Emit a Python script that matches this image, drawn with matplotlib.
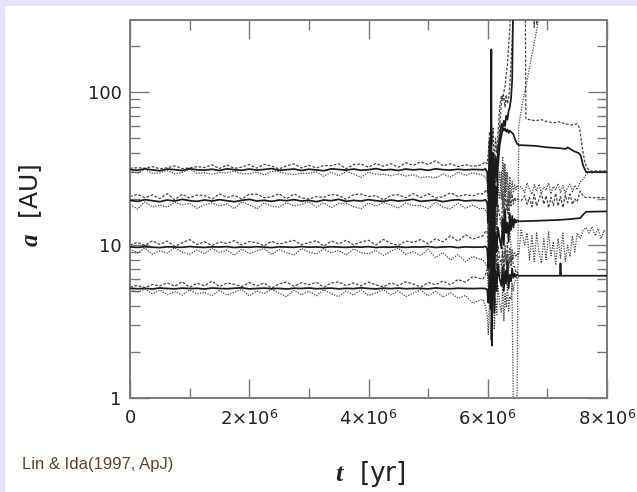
import numpy as np
import matplotlib
matplotlib.use("Agg")
import matplotlib.pyplot as plt
from matplotlib.patches import Rectangle
from matplotlib.ticker import FixedLocator, FixedFormatter, LogLocator, NullFormatter

plt.rcParams['font.family'] = ['DejaVu Sans']
plt.rcParams['mathtext.fontset'] = 'custom'
plt.rcParams['mathtext.it'] = 'Liberation Serif:italic:bold'
plt.rcParams['mathtext.rm'] = 'DejaVu Sans'

# ---- orbital evolution of four planets (time in Myr, distances in AU) ----
# quiet phase, sampled every 0.125 Myr
t_quiet = np.arange(48) * 0.125

a1 = [5.22, 5.18, 5.21, 5.16, 5.24, 5.20, 5.17, 5.23, 5.19, 5.21, 5.16, 5.24,
      5.20, 5.18, 5.22, 5.25, 5.17, 5.20, 5.23, 5.18, 5.21, 5.16, 5.22, 5.20,
      5.24, 5.18, 5.20, 5.23, 5.17, 5.21, 5.19, 5.25, 5.20, 5.17, 5.22, 5.19,
      5.23, 5.18, 5.20, 5.21, 5.17, 5.24, 5.20, 5.18, 5.22, 5.20, 5.19, 5.21]
a2 = [9.72, 9.65, 9.75, 9.68, 9.62, 9.74, 9.70, 9.66, 9.78, 9.69, 9.64, 9.73,
      9.70, 9.76, 9.63, 9.71, 9.67, 9.75, 9.69, 9.62, 9.74, 9.70, 9.66, 9.77,
      9.68, 9.72, 9.64, 9.75, 9.70, 9.66, 9.73, 9.69, 9.76, 9.63, 9.71, 9.68,
      9.74, 9.65, 9.72, 9.70, 9.78, 9.64, 9.71, 9.75, 9.62, 9.73, 9.68, 9.70]
a3 = [19.6, 19.3, 19.8, 19.5, 19.2, 19.7, 19.4, 19.9, 19.5, 19.3, 19.7, 19.4,
      19.8, 19.5, 19.2, 19.6, 19.9, 19.4, 19.6, 19.3, 19.7, 19.5, 19.8, 19.4,
      19.6, 19.2, 19.7, 19.5, 19.9, 19.3, 19.6, 19.4, 19.8, 19.5, 19.3, 19.7,
      19.4, 19.6, 19.9, 19.3, 19.5, 19.7, 19.2, 19.6, 19.8, 19.4, 19.6, 19.5]
a4 = [31.2, 30.8, 31.5, 31.0, 30.6, 31.4, 31.1, 30.7, 31.6, 31.0, 30.9, 31.3,
      30.7, 31.5, 31.1, 30.8, 31.4, 30.9, 31.2, 31.6, 30.8, 31.1, 31.4, 30.7,
      31.3, 31.0, 30.6, 31.5, 31.2, 30.9, 31.4, 30.8, 31.1, 31.6, 30.9, 31.2,
      30.7, 31.4, 31.0, 31.3, 30.8, 31.5, 31.1, 30.9, 31.3, 31.0, 31.2, 31.1]

# eccentricities in the quiet phase
e1 = [0.02, 0.05, 0.01, 0.07, 0.03, 0.09, 0.04, 0.10, 0.02, 0.08, 0.05, 0.11,
      0.03, 0.09, 0.06, 0.02, 0.10, 0.04, 0.08, 0.01, 0.07, 0.11, 0.03, 0.09,
      0.05, 0.10, 0.02, 0.08, 0.11, 0.04, 0.09, 0.03, 0.10, 0.06, 0.02, 0.09,
      0.04, 0.11, 0.07, 0.02, 0.10, 0.05, 0.12, 0.06, 0.14, 0.10, 0.20, 0.16]
e2 = [0.03, 0.08, 0.02, 0.10, 0.05, 0.09, 0.01, 0.07, 0.11, 0.04, 0.09, 0.02,
      0.08, 0.05, 0.11, 0.03, 0.09, 0.06, 0.02, 0.10, 0.04, 0.08, 0.11, 0.03,
      0.07, 0.10, 0.02, 0.09, 0.05, 0.11, 0.03, 0.08, 0.10, 0.04, 0.12, 0.06,
      0.02, 0.10, 0.07, 0.12, 0.04, 0.14, 0.08, 0.18, 0.10, 0.20, 0.13, 0.17]
e3 = [0.06, 0.11, 0.03, 0.09, 0.05, 0.10, 0.02, 0.08, 0.04, 0.10, 0.07, 0.03,
      0.09, 0.05, 0.10, 0.02, 0.08, 0.11, 0.04, 0.07, 0.10, 0.03, 0.09, 0.05,
      0.02, 0.08, 0.04, 0.10, 0.06, 0.03, 0.09, 0.11, 0.05, 0.08, 0.02, 0.07,
      0.10, 0.04, 0.09, 0.06, 0.11, 0.03, 0.08, 0.12, 0.05, 0.10, 0.07, 0.12]
e4 = [0.02, 0.04, 0.01, 0.05, 0.03, 0.02, 0.06, 0.03, 0.01, 0.05, 0.04, 0.07,
      0.03, 0.06, 0.02, 0.05, 0.07, 0.03, 0.08, 0.04, 0.02, 0.06, 0.08, 0.04,
      0.06, 0.03, 0.08, 0.05, 0.09, 0.02, 0.07, 0.10, 0.04, 0.08, 0.06, 0.09,
      0.05, 0.10, 0.07, 0.12, 0.09, 0.13, 0.06, 0.10, 0.04, 0.08, 0.05, 0.07]

# close encounters
t_chaos = [5.92, 5.96, 5.99, 6.01, 6.03, 6.05, 6.06, 6.07, 6.09, 6.11,
           6.13, 6.15, 6.17, 6.20, 6.23, 6.25, 6.27, 6.29, 6.31, 6.33,
           6.35, 6.37, 6.39, 6.41, 6.43, 6.45, 6.47, 6.49, 6.52]

a1_chaos = [5.2, 5.2, 5.1, 4.2, 6.5, 3.8, 7.0, 4.5, 8.5, 3.6,
            6.8, 5.0, 7.5, 6.0, 5.4, 7.2, 5.0, 6.8, 5.6, 7.8,
            5.2, 6.4, 5.8, 7.0, 6.1, 6.5, 6.2, 6.4, 6.3]
q1_chaos = [4.4, 4.0, 3.5, 2.6, 4.8, 2.4, 5.2, 3.0, 6.0, 2.8,
            4.5, 3.5, 5.4, 4.2, 3.6, 5.5, 3.2, 4.8, 3.9, 5.6,
            3.7, 4.6, 4.4, 5.6, 5.0, 5.8, 5.9, 6.1, 6.2]
Q1_chaos = [6.0, 6.4, 6.9, 6.0, 9.5, 5.2, 10.5, 6.8, 12.0, 5.0,
            9.8, 7.0, 10.0, 8.2, 7.4, 9.6, 6.9, 9.2, 7.6, 10.4,
            7.1, 8.3, 7.4, 8.6, 7.3, 7.2, 6.6, 6.7, 6.4]
a2_chaos = [9.7, 9.8, 9.5, 7.0, 14.0, 6.0, 18.0, 8.0, 15.0, 6.5,
            12.0, 9.0, 13.0, 11.0, 9.5, 15.0, 10.0, 17.0, 12.0, 14.0,
            10.5, 16.0, 12.5, 15.5, 13.0, 14.8, 14.0, 14.5, 14.3]
q2_chaos = [8.0, 7.6, 7.2, 5.0, 9.0, 4.2, 11.0, 5.5, 9.5, 4.4,
            8.0, 6.0, 8.5, 7.0, 6.2, 9.0, 6.5, 10.0, 7.4, 8.8,
            6.8, 9.6, 7.8, 9.4, 8.2, 9.0, 8.4, 8.8, 8.6]
Q2_chaos = [11.5, 12.2, 12.4, 9.5, 20.0, 8.5, 27.0, 11.0, 22.0, 9.0,
            17.0, 12.5, 18.5, 15.5, 13.2, 21.5, 14.0, 24.0, 17.0, 20.0,
            15.0, 22.0, 18.0, 21.5, 18.5, 20.5, 19.5, 20.0, 19.8]
a3_chaos = [19.5, 19.8, 19.0, 14.0, 30.0, 12.0, 36.0, 16.0, 28.0, 11.0,
            24.0, 18.0, 32.0, 45.0, 52.0, 58.0, 56.0, 58.0, 55.0, 57.0,
            54.0, 56.0, 55.0, 54.0, 53.0, 50.0, 48.0, 46.0, 45.0]
q3_chaos = [17.5, 17.0, 16.0, 9.0, 20.0, 7.0, 24.0, 10.0, 19.0, 6.5,
            15.0, 11.0, 22.0, 30.0, 20.0, 38.0, 16.0, 34.0, 22.0, 30.0,
            18.0, 28.0, 21.0, 26.0, 22.0, 25.0, 23.0, 24.5, 24.0]
Q3_chaos = [21.5, 22.5, 23.0, 20.0, 42.0, 18.0, 50.0, 24.0, 38.0, 16.0,
            33.0, 26.0, 42.0, 60.0, 85.0, 95.0, 92.0, 80.0, 96.0, 84.0,
            90.0, 110.0, 150.0, 220.0, 400.0, 420.0, 400.0, 400.0, 400.0]
a4_chaos = [31.0, 31.5, 30.0, 22.0, 48.0, 25.0, 190.0, 2.2, 40.0, 20.0,
            38.0, 28.0, 42.0, 50.0, 62.0, 58.0, 65.0, 60.0, 70.0, 66.0,
            75.0, 80.0, 90.0, 120.0, 500.0, 600.0, 700.0, 800.0, 900.0]
q4_chaos = [28.5, 28.0, 26.0, 12.0, 30.0, 10.0, 14.0, 6.0, 26.0, 9.0,
            20.0, 14.0, 24.0, 20.0, 30.0, 18.0, 34.0, 22.0, 30.0, 16.0,
            25.0, 14.0, 9.0, 4.0, 0.8, 0.8, 0.8, 0.8, 60.0]
Q4_chaos = [34.0, 35.0, 34.0, 40.0, 55.0, 30.0, 70.0, 45.0, 58.0, 32.0,
            50.0, 40.0, 52.0, 80.0, 95.0, 88.0, 100.0, 110.0, 130.0, 150.0,
            200.0, 260.0, 400.0, 900.0, 900.0, 900.0, 900.0, 900.0, 900.0]

# after the instability
t_post = [6.56, 6.62, 6.66, 6.70, 6.74, 6.78, 6.82, 6.86, 6.90, 6.94,
          6.98, 7.02, 7.06, 7.10, 7.14, 7.18, 7.22, 7.26, 7.30, 7.34,
          7.38, 7.42, 7.46, 7.50, 7.55, 7.60, 7.65, 7.70, 7.75, 7.80,
          7.85, 7.90, 7.95, 8.00]
q2_post = [12.5, 10.0, 12.0, 8.0, 11.5, 7.8, 12.0, 9.0, 7.6, 11.0,
           8.0, 12.2, 8.5, 10.5, 7.5, 11.0, 8.2, 12.0, 7.8, 10.0,
           8.4, 11.5, 9.0, 12.0, 11.0, 12.5, 13.0, 12.0, 13.2, 11.5,
           12.8, 11.0, 12.5, 12.0]
Q2_post = [19.5, 21.0, 18.5, 20.5, 17.8, 21.5, 18.0, 20.0, 22.0, 18.5,
           21.0, 17.5, 20.5, 18.2, 21.8, 18.0, 20.8, 17.6, 21.2, 19.0,
           21.5, 18.4, 20.0, 19.2, 22.5, 21.0, 20.4, 20.5, 20.4, 20.4,
           20.5, 20.4, 20.4, 20.4]
q3_post = [24.0, 22.0, 25.5, 23.0, 21.5, 24.8, 22.5, 25.0, 21.8, 24.0,
           22.8, 25.5, 21.6, 24.2, 23.0, 25.2, 22.0, 24.5, 21.8, 23.8,
           25.0, 22.4, 24.6, 23.0, 25.8, 27.0, 29.0, 30.0, 29.5, 30.0,
           30.2, 29.8, 30.0, 30.0]

a1_post_t = [6.56, 7.21, 7.22, 7.23, 8.00]
a1_post = [6.3, 6.3, 7.6, 6.3, 6.3]
a2_post_t = [6.56, 6.80, 7.00, 7.20, 7.40, 7.55, 7.60, 7.65, 8.00]
a2_post = [14.3, 14.4, 14.5, 14.6, 14.8, 15.0, 15.8, 16.5, 16.6]
a3_post_t = [6.54, 6.80, 7.00, 7.20, 7.30, 7.34, 7.45, 7.52, 7.56, 7.60, 7.65, 8.00]
a3_post = [45.0, 44.5, 43.5, 43.0, 42.5, 43.5, 41.0, 40.0, 38.5, 33.0, 30.0, 30.0]
Q3_post_t = [6.60, 6.63, 6.64, 6.70, 6.80, 6.90, 7.00, 7.10, 7.20, 7.30,
             7.40, 7.50, 7.54, 7.58, 7.62, 7.66, 7.72, 8.00]
Q3_post = [400, 400, 67, 66, 65, 66, 64, 63, 64, 62,
           61, 62, 58, 45, 36, 32, 30.5, 30.5]
q4_post_t = [6.58, 6.64, 6.72, 6.80, 6.88]
q4_post = [85, 108, 160, 230, 350]
Q4_post_t = [6.60, 6.76, 6.78, 6.80, 6.82, 6.84, 8.00]
Q4_post = [900, 900, 265, 900, 275, 900, 900]

x_ticks = [0, 2e6, 4e6, 6e6, 8e6]
x_tick_labels = ['0', r'2×10$^{\mathrm{6}}$', r'4×10$^{\mathrm{6}}$',
                 r'6×10$^{\mathrm{6}}$', r'8×10$^{\mathrm{6}}$']
y_ticks = [1, 10, 100]
y_tick_labels = ['1', '10', '100']


def track(*pieces):
    """Join (time, value) pieces of one orbit into a single line in years."""
    t = np.concatenate([np.asarray(p[0], float) for p in pieces]) * 1e6
    v = np.concatenate([np.asarray(p[1], float) for p in pieces])
    return t, v


def peri(a, e):
    return np.asarray(a) * (1 - np.asarray(e))


def apo(a, e):
    return np.asarray(a) * (1 + np.asarray(e))


semi_major = [
    track((t_quiet, a1), (t_chaos, a1_chaos), (a1_post_t, a1_post)),
    track((t_quiet, a2), (t_chaos, a2_chaos), (a2_post_t, a2_post)),
    track((t_quiet, a3), (t_chaos, a3_chaos), (a3_post_t, a3_post)),
    track((t_quiet, a4), (t_chaos, a4_chaos)),
]
pericentre = [
    track((t_quiet, peri(a1, e1)), (t_chaos, q1_chaos)),
    track((t_quiet, peri(a2, e2)), (t_chaos, q2_chaos), (t_post, q2_post)),
    track((t_quiet, peri(a3, e3)), (t_chaos, q3_chaos), (t_post, q3_post)),
    track((t_quiet, peri(a4, e4)), (t_chaos, q4_chaos), (q4_post_t, q4_post)),
]
apocentre = [
    track((t_quiet, apo(a1, e1)), (t_chaos, Q1_chaos)),
    track((t_quiet, apo(a2, e2)), (t_chaos, Q2_chaos), (t_post, Q2_post)),
    track((t_quiet, apo(a3, e3)), (t_chaos, Q3_chaos), (Q3_post_t, Q3_post)),
    track((t_quiet, apo(a4, e4)), (t_chaos, Q4_chaos), (Q4_post_t, Q4_post)),
]

W, H = 637, 492
fig = plt.figure(figsize=(W / 100, H / 100), dpi=100, facecolor='#e4e4fc')
fig.add_artist(Rectangle((5 / W, 0), 1 - 5 / W, 1 - 6 / H, transform=fig.transFigure,
                         facecolor='white', edgecolor='none', zorder=0))

ax = fig.add_axes([130 / W, 1 - 398 / H, 477 / W, 378 / H])
ax.set_yscale('log')

for t, v in pericentre:
    ax.plot(t, v, color='#464646', lw=0.9, dashes=(1.0, 1.1), zorder=2)
for t, v in apocentre:
    ax.plot(t, v, color='#464646', lw=0.9, dashes=(2.2, 1.3), zorder=2)
for t, v in semi_major:
    ax.plot(t, v, color='#1a1a1a', lw=1.25, zorder=3)

ax.set_xlim(0, 8e6)
ax.set_ylim(1, 296)

ax.xaxis.set_major_locator(FixedLocator(x_ticks))
ax.xaxis.set_major_formatter(FixedFormatter(x_tick_labels))
ax.xaxis.set_minor_locator(FixedLocator([1e6, 3e6, 5e6, 7e6]))
ax.yaxis.set_major_locator(FixedLocator(y_ticks))
ax.yaxis.set_major_formatter(FixedFormatter(y_tick_labels))
ax.yaxis.set_minor_locator(LogLocator(base=10, subs=np.arange(2, 10)))
ax.yaxis.set_minor_formatter(NullFormatter())

ax.tick_params(which='both', direction='in', top=True, right=True,
               color='#777777', width=1.0, labelsize=13, labelcolor='#222222')
ax.tick_params(which='major', length=14)
ax.tick_params(which='minor', length=7.5)
ax.tick_params(axis='x', pad=8)
ax.tick_params(axis='y', pad=6)
for s in ax.spines.values():
    s.set_color('#7a7a7a')
    s.set_linewidth(1.4)

fig.text(31 / W, 1 - 205 / H, r'$a$  [AU]', rotation=90, ha='center', va='center',
         fontsize=18, color='#222222')
fig.text(370 / W, 1 - 474 / H, r'$t$  [yr]', ha='center', va='center',
         fontsize=19, color='#222222')
fig.text(22 / W, 1 - 469 / H, 'Lin & Ida(1997, ApJ)', ha='left', va='baseline',
         fontsize=12, color='#5b4520', family='Liberation Sans')

fig.savefig('out.png', dpi=100, facecolor=fig.get_facecolor())
